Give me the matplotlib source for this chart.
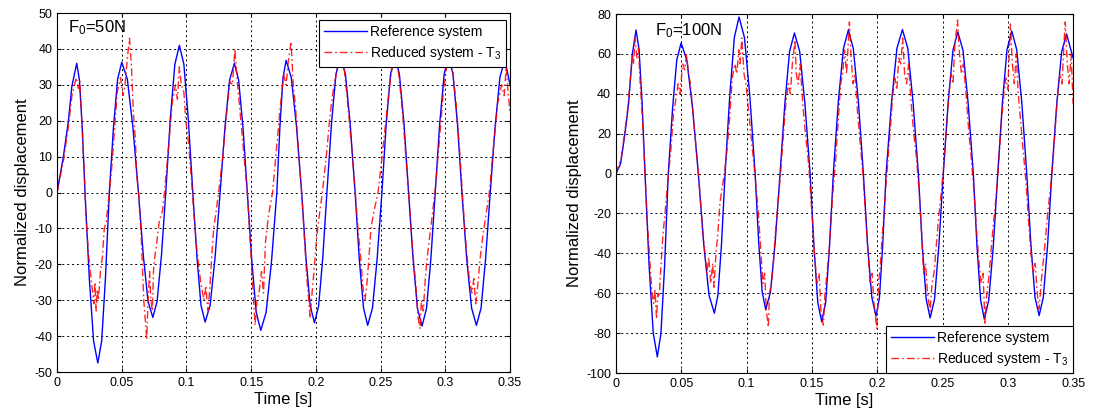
import matplotlib
matplotlib.use("Agg")
import matplotlib.pyplot as plt

plt.rcParams['font.family'] = ['Liberation Sans', 'DejaVu Sans']
plt.rcParams['mathtext.default'] = 'regular'
plt.rcParams['axes.unicode_minus'] = False

# ---- data ----
x_ticks = [0, 0.05, 0.1, 0.15, 0.2, 0.25, 0.3, 0.35]
x_tick_labels = ['0', '0.05', '0.1', '0.15', '0.2', '0.25', '0.3', '0.35']
y_ticks_50 = list(range(-50, 51, 10))
y_ticks_100 = list(range(-100, 81, 20))

# F0 = 50 N, reference system
t_ref_50 = [0, 0.0049, 0.0088, 0.0114, 0.0152, 0.0173, 0.0195, 0.0216,
            0.0249, 0.0282, 0.0315, 0.0345, 0.0374, 0.0404,
            0.0436, 0.0468, 0.0500, 0.0543, 0.0586, 0.0629,
            0.0666, 0.0703, 0.0740, 0.0773, 0.0807, 0.0840,
            0.0875, 0.0910, 0.0945, 0.0980, 0.1014, 0.1049,
            0.1081, 0.1112, 0.1144, 0.1183, 0.1221, 0.1260,
            0.1297, 0.1333, 0.1370, 0.1403, 0.1437, 0.1470,
            0.1505, 0.1539, 0.1574, 0.1615, 0.1657, 0.1698,
            0.1722, 0.1746, 0.1770, 0.1810, 0.1850, 0.1890,
            0.1923, 0.1956, 0.1989, 0.2021, 0.2053, 0.2085,
            0.2120, 0.2155, 0.2190, 0.2228, 0.2265, 0.2303,
            0.2335, 0.2368, 0.2400, 0.2437, 0.2473, 0.2510,
            0.2543, 0.2577, 0.2610, 0.2645, 0.2681, 0.2716,
            0.2751, 0.2785, 0.2820, 0.2854, 0.2888, 0.2922,
            0.2956, 0.2991, 0.3025, 0.3059, 0.3094, 0.3128,
            0.3165, 0.3203, 0.3240, 0.3276, 0.3311, 0.3347,
            0.3385, 0.3422, 0.3460, 0.3500]
y_ref_50 = [0, 10, 20, 29.5, 36, 31.3, 18, 0,
            -23.8, -41.3, -47.5, -41.3, -23.8, 0,
            18.2, 31.6, 36.3, 31.6, 18.2, 0,
            -17.4, -30.3, -34.8, -30.3, -17.4, 0,
            20.5, 35.7, 41, 35.7, 20.5, 0,
            -18, -31.4, -36.1, -31.4, -18, 0,
            18, 31.3, 36, 31.3, 18, 0,
            -19.2, -33.4, -38.4, -33.4, -19.2, 0,
            18.4, 32, 36.8, 32, 18.4, 0,
            -18.2, -31.6, -36.3, -31.6, -18.2, 0,
            19, 33, 38, 33, 19, 0,
            -18.5, -32.2, -37, -32.2, -18.5, 0,
            19, 33, 38, 33, 19, 0,
            -18.6, -32.4, -37.2, -32.4, -18.6, 0,
            19, 33, 38, 33, 19, 0,
            -18.5, -32.2, -37, -32.2, -18.5, 0,
            18.5, 32.2, 37, 30]

# F0 = 50 N, reduced system T3
t_red_50 = [0, 0.005, 0.009, 0.0115, 0.0148, 0.0165, 0.0175, 0.0195, 0.0215, 0.0222,
            0.0245, 0.027, 0.0285, 0.0293, 0.0302, 0.031, 0.032, 0.0335, 0.035, 0.0365,
            0.038, 0.0395, 0.041, 0.0425, 0.0445, 0.0465, 0.049, 0.051, 0.0525, 0.0545,
            0.056, 0.0575, 0.059, 0.0605, 0.0615, 0.063, 0.065, 0.067, 0.0693, 0.0703,
            0.0715, 0.0725, 0.0737, 0.0745, 0.0755, 0.077, 0.079, 0.0815, 0.083, 0.086,
            0.089, 0.0915, 0.093, 0.0945, 0.096, 0.098, 0.0995, 0.1015, 0.104, 0.1055,
            0.108, 0.111, 0.1135, 0.115, 0.1165, 0.118, 0.1195, 0.121, 0.123, 0.1255,
            0.128, 0.131, 0.1335, 0.1355, 0.1374, 0.139, 0.1405, 0.142, 0.145, 0.147,
            0.149, 0.151, 0.153, 0.1545, 0.156, 0.158, 0.1595, 0.161, 0.1635, 0.1665,
            0.169, 0.172, 0.175, 0.177, 0.1785, 0.1808, 0.1825, 0.184, 0.1865, 0.189,
            0.191, 0.193, 0.1945, 0.1955, 0.197, 0.1985, 0.2, 0.202, 0.205, 0.208,
            0.211, 0.214, 0.217, 0.2195, 0.222, 0.2245, 0.227, 0.23, 0.2325, 0.235,
            0.2365, 0.238, 0.2395, 0.241, 0.2425, 0.245, 0.248, 0.2505, 0.254, 0.257,
            0.2595, 0.2615, 0.264, 0.267, 0.2695, 0.272, 0.2745, 0.277, 0.279, 0.2805,
            0.2815, 0.283, 0.2845, 0.286, 0.288, 0.29, 0.2925, 0.2955, 0.2985, 0.301,
            0.3035, 0.306, 0.3085, 0.311, 0.3135, 0.316, 0.3185, 0.3205, 0.322, 0.3235,
            0.325, 0.327, 0.329, 0.3315, 0.334, 0.337, 0.3405, 0.3435, 0.3455, 0.347,
            0.3485, 0.35]
y_red_50 = [0, 9, 19, 27, 32, 29, 31, 17, 2, -6,
            -18, -26, -31, -25, -33, -27, -30, -22, -18, -10,
            -8, -3, 2, 8, 18, 28, 32, 27, 30, 38,
            43, 35, 22, 15, 5, 0, -12, -30, -41, -30,
            -22, -30, -33, -22, -18, -14, -8, -5, 0, 12,
            25, 30, 26, 35, 30, 28, 20, 14, 3, -5,
            -16, -25, -30, -26, -33, -27, -18, -10, -5, 2,
            10, 22, 31, 30, 40, 32, 26, 20, 8, 0,
            -12, -25, -37, -30, -28, -22, -28, -14, -6, 0,
            10, 22, 33, 30, 36, 42, 30, 25, 12, 0,
            -12, -24, -30, -35, -28, -22, -15, -8, 0, 10,
            22, 30, 35, 39, 34, 25, 15, 2, -10, -20,
            -27, -30, -25, -18, -10, -5, 0, 8, 20, 30,
            36, 38, 33, 22, 10, -2, -15, -25, -35, -38,
            -30, -33, -24, -18, -12, -6, 2, 15, 28, 35,
            38, 33, 24, 12, -2, -15, -24, -28, -24, -31,
            -26, -18, -12, -6, 0, 12, 25, 30, 27, 35,
            28, 22]

# F0 = 100 N, reference system
t_ref_100 = [0, 0.0035, 0.0056, 0.0080, 0.0097, 0.0125, 0.0153, 0.0176, 0.0199, 0.0222,
             0.0253, 0.0285, 0.0316, 0.0344, 0.0372, 0.0400,
             0.0433, 0.0465, 0.0498, 0.0542, 0.0586, 0.0630,
             0.0671, 0.0712, 0.0753, 0.0780, 0.0808, 0.0835,
             0.0871, 0.0906, 0.0942, 0.0983, 0.1024, 0.1065,
             0.1092, 0.1119, 0.1146, 0.1183, 0.1219, 0.1256,
             0.1293, 0.1329, 0.1366, 0.1406, 0.1446, 0.1486,
             0.1516, 0.1545, 0.1575, 0.1605, 0.1634, 0.1664,
             0.1702, 0.1741, 0.1779, 0.1817, 0.1856, 0.1894,
             0.1926, 0.1959, 0.1991, 0.2017, 0.2042, 0.2068,
             0.2110, 0.2151, 0.2193, 0.2234, 0.2274, 0.2315,
             0.2345, 0.2375, 0.2405, 0.2439, 0.2472, 0.2506,
             0.2543, 0.2580, 0.2617, 0.2657, 0.2696, 0.2736,
             0.2764, 0.2792, 0.2820, 0.2854, 0.2889, 0.2923,
             0.2959, 0.2994, 0.3030, 0.3068, 0.3107, 0.3145,
             0.3177, 0.3208, 0.3240, 0.3272, 0.3305, 0.3337,
             0.3375, 0.3412, 0.3450, 0.3500]
y_ref_100 = [0, 5, 14.5, 26, 36, 60, 72, 62.4, 36, 0,
             -46, -80, -91.9, -80, -46, 0,
             32.8, 57, 65.5, 57, 32.8, 0,
             -35, -61, -70, -61, -35, 0,
             39.3, 68.3, 78.5, 68.3, 39.3, 0,
             -34.1, -59.3, -68.2, -59.3, -34.1, 0,
             35.3, 61.3, 70.5, 61.3, 35.3, 0,
             -37.2, -64.7, -74.4, -64.7, -37.2, 0,
             36, 62.6, 72, 62.6, 36, 0,
             -35.8, -62.2, -71.5, -62.2, -35.8, 0,
             36.1, 62.8, 72.2, 62.8, 36.1, 0,
             -36.2, -63, -72.4, -63, -36.2, 0,
             35.5, 61.8, 71, 61.8, 35.5, 0,
             -36.5, -63.5, -73, -63.5, -36.5, 0,
             35.8, 62.2, 71.5, 62.2, 35.8, 0,
             -35.6, -62, -71.2, -62, -35.6, 0,
             35, 61, 70, 58]

# F0 = 100 N, reduced system T3
t_red_100 = [0, 0.004, 0.0065, 0.009, 0.011, 0.0125, 0.0135, 0.0145, 0.016, 0.0172,
             0.0185, 0.02, 0.0213, 0.0225, 0.024, 0.026, 0.0275, 0.0288, 0.0298, 0.031,
             0.032, 0.033, 0.0345, 0.036, 0.0375, 0.039, 0.0405, 0.042, 0.044, 0.046,
             0.0475, 0.049, 0.051, 0.0525, 0.054, 0.0555, 0.057, 0.059, 0.061, 0.0625,
             0.064, 0.066, 0.068, 0.0695, 0.071, 0.0725, 0.074, 0.075, 0.0765, 0.078,
             0.0795, 0.081, 0.083, 0.085, 0.087, 0.089, 0.091, 0.0925, 0.094, 0.095,
             0.0963, 0.098, 0.0995, 0.101, 0.103, 0.105, 0.107, 0.109, 0.111, 0.1125,
             0.1138, 0.115, 0.1166, 0.1175, 0.119, 0.1205, 0.122, 0.124, 0.126, 0.128,
             0.13, 0.132, 0.1335, 0.135, 0.137, 0.138, 0.1395, 0.141, 0.143, 0.145,
             0.147, 0.1485, 0.1505, 0.1525, 0.154, 0.1555, 0.157, 0.1588, 0.16, 0.1615,
             0.163, 0.1645, 0.166, 0.168, 0.17, 0.172, 0.1735, 0.175, 0.1765, 0.1787,
             0.18, 0.1815, 0.183, 0.185, 0.187, 0.189, 0.191, 0.193, 0.1945, 0.196,
             0.1975, 0.1997, 0.201, 0.2025, 0.204, 0.206, 0.208, 0.21, 0.212, 0.2135,
             0.215, 0.2165, 0.218, 0.2195, 0.221, 0.2225, 0.224, 0.226, 0.228, 0.23,
             0.232, 0.234, 0.2355, 0.237, 0.2385, 0.2405, 0.242, 0.2435, 0.245, 0.247,
             0.249, 0.251, 0.253, 0.255, 0.2565, 0.258, 0.2595, 0.2615, 0.263, 0.2645,
             0.266, 0.268, 0.27, 0.272, 0.274, 0.276, 0.278, 0.2795, 0.281, 0.2825,
             0.284, 0.2855, 0.287, 0.289, 0.291, 0.293, 0.295, 0.297, 0.2985, 0.3,
             0.302, 0.3035, 0.305, 0.3065, 0.308, 0.31, 0.312, 0.314, 0.316, 0.318,
             0.3195, 0.321, 0.3225, 0.324, 0.3255, 0.327, 0.3285, 0.3305, 0.3325, 0.3345,
             0.3365, 0.3385, 0.34, 0.3415, 0.343, 0.344, 0.3455, 0.347, 0.3485, 0.35]
y_red_100 = [0, 8, 20, 33, 48, 60, 55, 68, 58, 63,
             45, 30, 12, -5, -25, -45, -60, -65, -58, -73,
             -60, -62, -45, -30, -20, -8, 2, 12, 30, 38,
             45, 40, 55, 52, 60, 50, 45, 30, 15, 5,
             -8, -25, -40, -50, -42, -55, -45, -57, -40, -30,
             -15, -8, 0, 12, 28, 48, 55, 50, 62, 55,
             68, 50, 45, 35, 22, 8, -5, -20, -40, -55,
             -50, -68, -77, -60, -55, -45, -30, -15, 0, 18,
             35, 45, 40, 55, 67, 50, 45, 55, 35, 20,
             8, -5, -25, -45, -55, -50, -70, -76, -60, -50,
             -40, -25, -10, 5, 25, 45, 50, 62, 50, 76,
             58, 45, 50, 30, 15, 0, -20, -40, -55, -50,
             -65, -78, -55, -45, -30, -12, 5, 22, 40, 48,
             42, 58, 55, 68, 50, 45, 55, 35, 20, 8,
             -8, -30, -50, -45, -60, -69, -55, -50, -38, -22,
             -10, 5, 22, 40, 50, 45, 65, 77, 60, 50,
             55, 40, 22, 8, -8, -28, -45, -55, -50, -75,
             -60, -52, -40, -25, -12, 5, 25, 40, 48, 42,
             75, 55, 45, 60, 40, 25, 10, -5, -25, -42,
             -50, -45, -60, -68, -55, -45, -35, -20, -8, 5,
             25, 42, 50, 45, 65, 76, 55, 45, 60, 35]


def draw_panel(ax, t_ref, y_ref, t_red, y_red, yticks, title, legend_loc, legend_anchor):
    ax.plot(t_ref, y_ref, color='#0000ff', linewidth=1.0, label='Reference system')
    ax.plot(t_red, y_red, color='#ff0000', linewidth=1.0, alpha=0.85,
            linestyle=(0, (5.5, 2.2, 1.2, 2.2)), label='Reduced system - T$_3$')
    ax.set_xlim(0, 0.35)
    ax.set_ylim(yticks[0], yticks[-1])
    ax.set_xticks(x_ticks)
    ax.set_xticklabels(x_tick_labels)
    ax.set_yticks(yticks)
    ax.tick_params(labelsize=9, direction='in', length=3, top=True, right=True)
    ax.grid(True, color='k', linestyle=(0, (2, 3)), linewidth=0.7)
    ax.set_axisbelow(True)
    for s in ax.spines.values():
        s.set_linewidth(0.8)
    ax.set_xlabel('Time [s]', fontsize=12, labelpad=2)
    ax.set_ylabel('Normalized displacement', fontsize=12, labelpad=3)
    ax.text(title[0], title[1], title[2], transform=ax.transAxes, fontsize=12)
    leg = ax.legend(loc=legend_loc, bbox_to_anchor=legend_anchor, borderaxespad=0,
                    fontsize=10, handlelength=3.1, handletextpad=0.2,
                    labelspacing=0.35, borderpad=0.35, fancybox=False,
                    framealpha=1, edgecolor='k')
    leg.get_frame().set_linewidth(0.8)


fig = plt.figure(figsize=(10.95, 4.15), dpi=100)
ax1 = fig.add_axes([0.0521, 0.1036, 0.4137, 0.865])
ax2 = fig.add_axes([0.5626, 0.1012, 0.4174, 0.865])

draw_panel(ax1, t_ref_50, y_ref_50, t_red_50, y_red_50, y_ticks_50,
           (0.024, 0.947, 'F$_0$=50N'), 'upper right', (0.9905, 0.9805))
draw_panel(ax2, t_ref_100, y_ref_100, t_red_100, y_red_100, y_ticks_100,
           (0.085, 0.94, 'F$_0$=100N'), 'lower right', (1.0, 0.0))

fig.savefig('out.png', dpi=100)
